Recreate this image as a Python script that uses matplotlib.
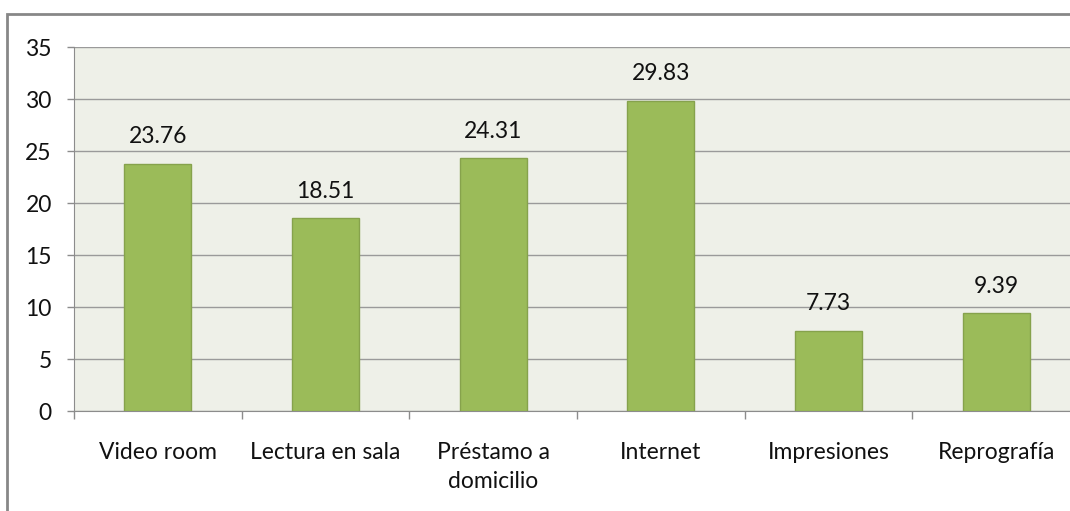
import matplotlib
matplotlib.use("Agg")
import matplotlib.pyplot as plt
from matplotlib.patches import Rectangle

categories = ["Video room", "Lectura en sala", "Préstamo a\ndomicilio",
              "Internet", "Impresiones", "Reprografía"]
values = [23.76, 18.51, 24.31, 29.83, 7.73, 9.39]
y_ticks = [0, 5, 10, 15, 20, 25, 30, 35]

plt.rcParams['font.family'] = ['Lato', 'DejaVu Sans']
FS = 16.5

fig = plt.figure(figsize=(10.70, 5.11), dpi=100)
# plot area runs past the right edge of the picture, like the cropped original
ax = fig.add_axes([74 / 1070, 1 - 411 / 511, 1006 / 1070, 364 / 511])
ax.set_facecolor("#EEF0E8")

x = list(range(len(categories)))
bars = ax.bar(x, values, width=0.4, color="#9BBB59", edgecolor="#86A24C",
              linewidth=1, zorder=3)
for xi, v in zip(x, values):
    ax.annotate(f"{v:.2f}", (xi, v), xytext=(0, 12), textcoords="offset points",
                ha="center", va="bottom", fontsize=FS, color="#111111")

ax.set_xlim(-0.5, len(categories) - 0.5)
ax.set_ylim(0, 35)
ax.set_yticks(y_ticks)
ax.yaxis.grid(True, color="#9A9A9A", linewidth=1, zorder=1)
ax.tick_params(axis="y", length=5, width=1, color="#8C8C8C", pad=11,
               labelsize=FS, labelcolor="#111111")

ax.set_xticks(x)
ax.set_xticklabels(categories, linespacing=1.5)
ax.set_xticks([i + 0.5 for i in x[:-1]] + [-0.5], minor=True)
ax.tick_params(axis="x", which="major", length=0, pad=22, labelsize=FS,
               labelcolor="#111111")
ax.tick_params(axis="x", which="minor", length=6, width=1, color="#8C8C8C")

for side in ["top", "right"]:
    ax.spines[side].set_visible(False)
ax.spines["left"].set_color("#8C8C8C")
ax.spines["bottom"].set_color("#8C8C8C")

# outer chart border (cut off on the right and bottom in the original)
fig.patches.append(Rectangle((7 / 1070, -0.1), 1.2, 1.1 - 14 / 511,
                             transform=fig.transFigure, fill=False,
                             edgecolor="#878787", linewidth=2))

fig.savefig("out.png", dpi=100)
